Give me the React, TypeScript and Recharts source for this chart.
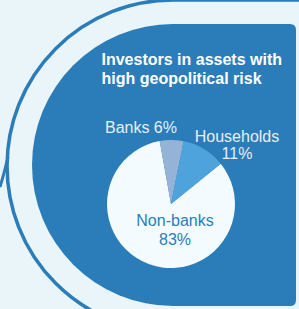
import React from 'react';
import { PieChart, Pie, Cell } from 'recharts';

const categories = ['Non-banks', 'Banks', 'Households'];
const shares = [83, 6, 11];
const sliceColors = ['#f3fbff', '#94b3d6', '#4fa3dd'];
const titleLines = ['Investors in assets with', 'high geopolitical risk'];

const data = categories.map((name, i) => ({ name, value: shares[i] }));

const FONT = '"Liberation Sans", Arial, sans-serif';
const BLUE = '#2a7db8';
const PAGE = '#eaf5fa';
const LABEL_LIGHT = '#e6eef7';

const renderLabel = (props: any) => {
  const { cx, cy, outerRadius, index } = props;
  const name = categories[index];
  const pct = `${shares[index]}%`;
  if (name === 'Non-banks') {
    return (
      <text x={cx + 4} y={cy + 22} textAnchor="middle" fill={BLUE} fontSize={16} fontFamily={FONT}>
        <tspan x={cx + 4} dy={0}>{name}</tspan>
        <tspan x={cx + 4} dy={18.7}>{pct}</tspan>
      </text>
    );
  }
  if (name === 'Banks') {
    return (
      <text x={cx + 6} y={cy - outerRadius - 7.5} textAnchor="end" fill={LABEL_LIGHT} fontSize={16} fontFamily={FONT}>
        {`${name} ${pct}`}
      </text>
    );
  }
  return (
    <text x={cx + 66} y={cy - outerRadius + 2} textAnchor="middle" fill={LABEL_LIGHT} fontSize={16} fontFamily={FONT}>
      <tspan x={cx + 66} dy={0}>{name}</tspan>
      <tspan x={cx + 66} dy={17.2}>{pct}</tspan>
    </text>
  );
};

export default function App() {
  return (
    <div style={{ position: 'fixed', left: 0, top: 0, width: 299, height: 309, background: PAGE, overflow: 'hidden' }}>
      <svg width={299} height={309} style={{ position: 'absolute', left: 0, top: 0 }}>
        <path d="M 173 0 L 320 0 L 320 332 L 173 332 A 166 166 0 0 1 173 0 Z" fill="none" stroke={BLUE} strokeWidth={3.5} />
        <path d="M 0 187 Q 4 174 8 157" fill="none" stroke={BLUE} strokeWidth={3} />
        <path d="M 173 24 L 290 24 Q 296 24 296 30 L 296 300 Q 296 306 290 306 L 173 306 A 141 141 0 0 1 173 24 Z" fill={BLUE} />
        <text x={101.5} y={65} fill="#ffffff" fontSize={16} fontWeight="bold" fontFamily={FONT}>{titleLines[0]}</text>
        <text x={101.5} y={84} fill="#ffffff" fontSize={16} fontWeight="bold" fontFamily={FONT}>{titleLines[1]}</text>
      </svg>
      <div style={{ position: 'absolute', left: 0, top: 0 }}>
        <PieChart width={299} height={309}>
          <Pie
            data={data}
            dataKey="value"
            nameKey="name"
            cx={166}
            cy={199}
            outerRadius={64}
            startAngle={39}
            endAngle={-321}
            stroke="none"
            labelLine={false}
            label={renderLabel}
            isAnimationActive={false}
          >
            {data.map((d, i) => (
              <Cell key={d.name} fill={sliceColors[i]} />
            ))}
          </Pie>
        </PieChart>
      </div>
    </div>
  );
}
